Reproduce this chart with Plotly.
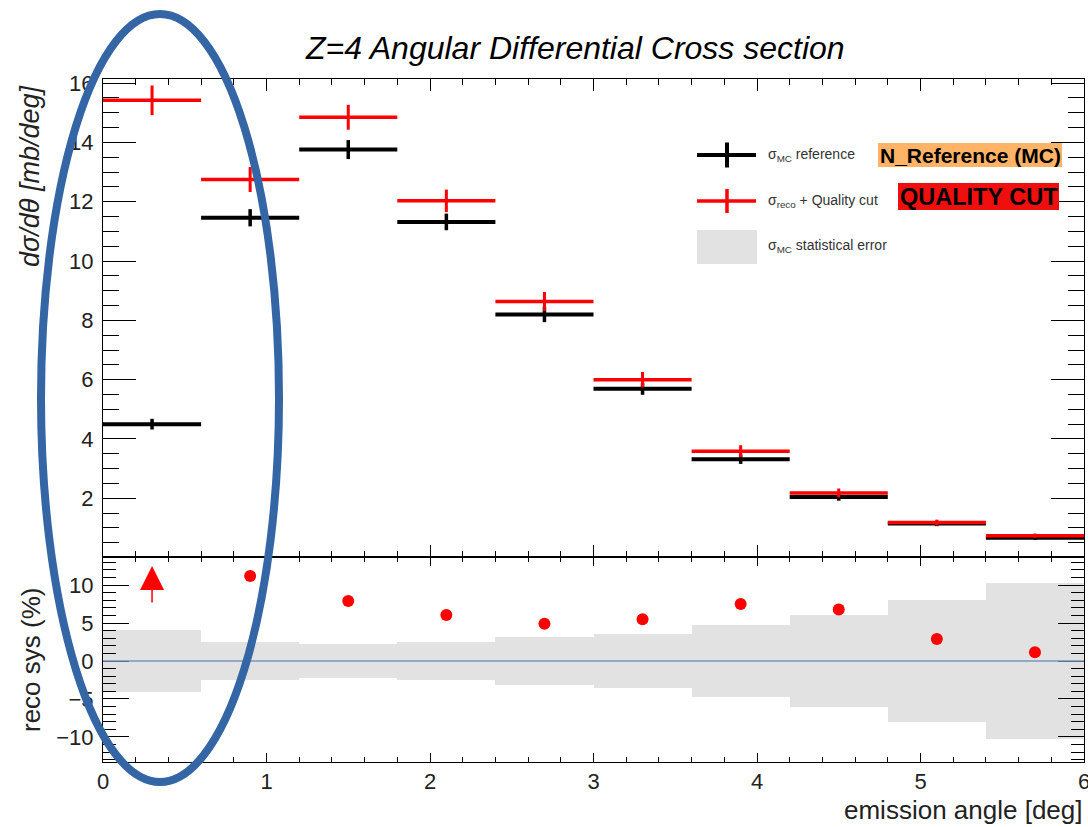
import plotly.graph_objects as go

# ---------------- data ----------------
bin_edges = [0.0, 0.6, 1.2, 1.8, 2.4, 3.0, 3.6, 4.2, 4.8, 5.4, 6.0]
sigma_mc = [4.50, 11.46, 13.76, 11.32, 8.20, 5.69, 3.32, 2.04, 1.15, 0.67]
sigma_mc_err = [0.18, 0.29, 0.32, 0.28, 0.26, 0.20, 0.16, 0.12, 0.09, 0.07]
sigma_reco = [15.42, 12.75, 14.85, 12.03, 8.64, 6.00, 3.59, 2.18, 1.18, 0.74]
sigma_reco_err = [0.50, 0.42, 0.42, 0.38, 0.32, 0.26, 0.20, 0.15, 0.10, 0.07]
reco_sys = [243.0, 11.2, 7.9, 6.05, 4.9, 5.5, 7.5, 6.8, 2.9, 1.15]   # %
mc_stat_err = [4.1, 2.5, 2.3, 2.5, 3.1, 3.6, 4.7, 6.0, 8.0, 10.3]     # %

title_text = "Z=4 Angular Differential Cross section"
x_title = "emission angle [deg]"
y_title_top = "dσ/dθ [mb/deg]"
y_title_bottom = "reco sys (%)"
legend_labels = ["σ<sub>MC</sub> reference", "σ<sub>reco</sub> + Quality cut", "σ<sub>MC</sub> statistical error"]
tag_labels = ["N_Reference (MC)", "QUALITY CUT"]

# ---------------- derived ----------------
centers = [(a + b) / 2 for a, b in zip(bin_edges[:-1], bin_edges[1:])]
half_w = [(b - a) / 2 for a, b in zip(bin_edges[:-1], bin_edges[1:])]
widths = [b - a for a, b in zip(bin_edges[:-1], bin_edges[1:])]

TOP_RANGE = [0.02, 16.14]
BOT_RANGE = [-13.3, 13.7]

W, H = 1088, 827
ML, MR, MT, MB = 103, 4, 79, 65
PW, PH = W - ML - MR, H - MT - MB


def px(x):
    return (x - ML) / PW


def py(y):
    return (H - MB - y) / PH


FONT = "Liberation Sans, Arial, sans-serif"

fig = go.Figure()

# top panel
fig.add_trace(go.Scatter(
    x=centers, y=sigma_mc, mode="markers", xaxis="x", yaxis="y",
    marker=dict(size=1, color="black"),
    error_x=dict(type="data", array=half_w, color="black", thickness=4, width=0),
    error_y=dict(type="data", array=sigma_mc_err, color="black", thickness=3.5, width=0),
    showlegend=False, hoverinfo="skip"))
fig.add_trace(go.Scatter(
    x=centers, y=sigma_reco, mode="markers", xaxis="x", yaxis="y",
    marker=dict(size=1, color="red"),
    error_x=dict(type="data", array=half_w, color="#ff0000", thickness=3.5, width=0),
    error_y=dict(type="data", array=sigma_reco_err, color="#ff0000", thickness=3, width=0),
    showlegend=False, hoverinfo="skip"))

# bottom panel: statistical error band
fig.add_trace(go.Bar(
    x=centers, y=[2 * e for e in mc_stat_err], base=[-e for e in mc_stat_err],
    width=widths, xaxis="x2", yaxis="y2",
    marker=dict(color="#e2e2e2", line=dict(width=0)),
    showlegend=False, hoverinfo="skip"))

in_range = [(c, r) for c, r in zip(centers, reco_sys) if BOT_RANGE[0] <= r <= BOT_RANGE[1]]
fig.add_trace(go.Scatter(
    x=[c for c, r in in_range], y=[r for c, r in in_range], mode="markers",
    xaxis="x2", yaxis="y2", marker=dict(size=12, color="#ff0000"),
    showlegend=False, hoverinfo="skip"))

annotations = []
shapes = []

# off-scale arrows
for c, r in zip(centers, reco_sys):
    if r > BOT_RANGE[1]:
        annotations.append(dict(
            x=c, y=BOT_RANGE[1] - 1.2, ax=c, ay=BOT_RANGE[1] - 6.2,
            xref="x2", yref="y2", axref="x2", ayref="y2", text="",
            showarrow=True, arrowhead=2, arrowsize=3.2, arrowwidth=1.5,
            arrowcolor="#ff0000"))

# zero line
shapes.append(dict(type="line", xref="paper", yref="y2", x0=0, x1=1, y0=0, y1=0,
                   line=dict(color="#7896be", width=1.5)))

axis_common = dict(showline=True, linecolor="black", linewidth=1, mirror="ticks",
                   ticks="inside", tickcolor="black", tickwidth=1,
                   showgrid=False, zeroline=False, automargin=False,
                   tickfont=dict(family=FONT, size=22, color="#222"))

fig.update_layout(
    width=W, height=H,
    margin=dict(l=ML, r=MR, t=MT, b=MB, pad=0, autoexpand=False),
    paper_bgcolor="white", plot_bgcolor="white",
    barmode="overlay", bargap=0,
    xaxis=dict(domain=[0, 1], anchor="y", range=[0, 6], dtick=1, tick0=0,
               showticklabels=False, ticklen=12,
               minor=dict(dtick=0.2, ticklen=6, ticks="inside", tickcolor="black"),
               **axis_common),
    yaxis=dict(domain=[py(557), 1], anchor="x", range=TOP_RANGE, dtick=2, tick0=0,
               ticklen=33, ticklabelstandoff=4,
               minor=dict(dtick=0.5, ticklen=16, ticks="inside", tickcolor="black"),
               **axis_common),
    xaxis2=dict(domain=[0, 1], anchor="y2", range=[0, 6], dtick=1, tick0=0,
                matches="x", ticklen=9, ticklabelstandoff=0, ticklabeloverflow="allow",
                minor=dict(dtick=0.2, ticklen=5, ticks="inside", tickcolor="black"),
                **axis_common),
    yaxis2=dict(domain=[0, py(557)], anchor="x2", range=BOT_RANGE, dtick=5, tick0=0,
                ticklen=26, ticklabelstandoff=4,
                minor=dict(dtick=1, ticklen=13, ticks="inside", tickcolor="black"),
                **axis_common),
)

# titles
annotations.append(dict(text="<i>" + title_text + "</i>", xref="paper", yref="paper",
                        x=px(575), y=py(48), xanchor="center", yanchor="middle",
                        showarrow=False, font=dict(family=FONT, size=32, color="black")))
annotations.append(dict(text=x_title, xref="paper", yref="paper",
                        x=px(1084), y=py(810), xanchor="right", yanchor="middle",
                        showarrow=False, font=dict(family=FONT, size=26, color="#222")))
annotations.append(dict(text="<i>" + y_title_top + "</i>", xref="paper", yref="paper",
                        x=px(30), y=py(176), xanchor="center", yanchor="middle",
                        textangle=-90, showarrow=False,
                        font=dict(family=FONT, size=27, color="#222")))
annotations.append(dict(text=y_title_bottom, xref="paper", yref="paper",
                        x=px(31), y=py(660), xanchor="center", yanchor="middle",
                        textangle=-90, showarrow=False,
                        font=dict(family=FONT, size=26, color="#222")))

# legend (drawn)
leg_rows = [155, 201, 246]
leg_x0, leg_x1, leg_xc = 697, 756, 727
for yrow, col, hw, vw, vh in [(leg_rows[0], "black", 4, 4, 12.5), (leg_rows[1], "#ff0000", 3.5, 3.5, 12)]:
    shapes.append(dict(type="line", xref="paper", yref="paper", x0=px(leg_x0), x1=px(leg_x1),
                       y0=py(yrow), y1=py(yrow), line=dict(color=col, width=hw)))
    shapes.append(dict(type="line", xref="paper", yref="paper", x0=px(leg_xc), x1=px(leg_xc),
                       y0=py(yrow - vh), y1=py(yrow + vh), line=dict(color=col, width=vw)))
shapes.append(dict(type="rect", xref="paper", yref="paper", x0=px(697), x1=px(757),
                   y0=py(264), y1=py(230), fillcolor="#e2e2e2", line=dict(width=0)))
for yrow, lab in zip(leg_rows, legend_labels):
    annotations.append(dict(text=lab, xref="paper", yref="paper", x=px(766), y=py(yrow),
                            xanchor="left", yanchor="middle", showarrow=False,
                            font=dict(family=FONT, size=14, color="#333")))

# tag boxes
shapes.append(dict(type="rect", xref="paper", yref="paper", x0=px(878), x1=px(1062),
                   y0=py(167), y1=py(143), fillcolor="#ffb366", line=dict(width=0)))
shapes.append(dict(type="rect", xref="paper", yref="paper", x0=px(898), x1=px(1059),
                   y0=py(210), y1=py(183), fillcolor="#f00f0f", line=dict(width=0)))
annotations.append(dict(text="<b>" + tag_labels[0] + "</b>", xref="paper", yref="paper",
                        x=px(970), y=py(155), xanchor="center", yanchor="middle", showarrow=False,
                        font=dict(family=FONT, size=21, color="black")))
annotations.append(dict(text="<b>" + tag_labels[1] + "</b>", xref="paper", yref="paper",
                        x=px(978.5), y=py(197), xanchor="center", yanchor="middle", showarrow=False,
                        font=dict(family=FONT, size=23.5, color="black")))

# highlight ellipse
shapes.append(dict(type="circle", xref="paper", yref="paper",
                   x0=px(41), x1=px(279), y0=py(782), y1=py(14),
                   line=dict(color="#3465a4", width=8), layer="above"))

fig.update_layout(shapes=shapes, annotations=annotations)

fig.write_html("out.html")
